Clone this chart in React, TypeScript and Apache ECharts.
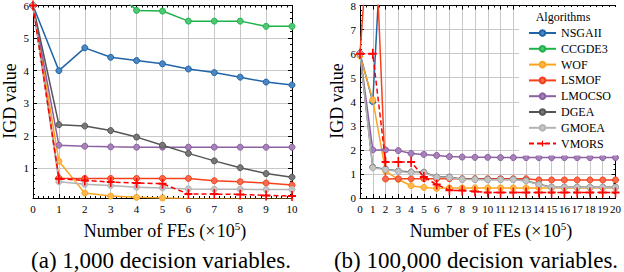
import React, { useEffect, useRef } from "react";
import * as echarts from "echarts";

const FONT = "Liberation Serif";

const names = ["NSGAII", "CCGDE3", "WOF", "LSMOF", "LMOCSO", "DGEA", "GMOEA", "VMORS"];
const colors = ["#2065a9", "#1fb24a", "#fba420", "#f5401c", "#8d5fa3", "#555555", "#b3b3b3", "#ff0000"];
const fills = ["#4a86c2", "#4fc873", "#fdb94d", "#f86a4c", "#a582b8", "#777777", "#c4c4c4", "#ff0000"];

// (a) 1,000 decision variables, FEs 0..10 (x1e5)
const feA = [0, 1, 2, 3, 4, 5, 6, 7, 8, 9, 10];
const nsgaiiA = [6.0, 4.0, 4.7, 4.41, 4.31, 4.21, 4.05, 3.94, 3.8, 3.65, 3.56];
const ccgde3A = [6.5, 7.4, 7.0, 6.6, 5.85, 5.83, 5.52, 5.52, 5.52, 5.36, 5.36];
const wofA = [6.0, 1.22, 0.24, 0.15, 0.11, 0.09, 0.07, 0.06, 0.06, 0.05, 0.05];
const lsmofA = [6.0, 0.7, 0.69, 0.69, 0.69, 0.69, 0.69, 0.62, 0.59, 0.55, 0.49];
const lmocsoA = [6.0, 1.71, 1.68, 1.66, 1.65, 1.65, 1.65, 1.65, 1.65, 1.65, 1.65];
const dgeaA = [6.0, 2.34, 2.3, 2.16, 1.96, 1.71, 1.46, 1.23, 1.02, 0.84, 0.73];
const gmoeaA = [6.0, 0.59, 0.51, 0.47, 0.42, 0.4, 0.37, 0.36, 0.36, 0.35, 0.35];
const vmorsA = [6.0, 0.68, 0.63, 0.58, 0.55, 0.53, 0.21, 0.21, 0.2, 0.17, 0.15];

// (b) 100,000 decision variables, FEs 0..20 (x1e5)
const feB = [0, 1, 2, 3, 4, 5, 6, 7, 8, 9, 10, 11, 12, 13, 14, 15, 16, 17, 18, 19, 20];
const nsgaiiB = [6.0, 4.0, 13.8, 13.6, 13.5, 13.4, 13.3, 13.2, 13.1, 13.0, 12.9, 12.9, 12.8, 12.8, 12.7, 12.7, 12.6, 12.6, 12.5, 12.5, 12.4];
const ccgde3B = [9.6, 9.8, 9.7, 9.6, 9.6, 9.5, 9.5, 9.4, 9.4, 9.3, 9.3, 9.3, 9.2, 9.2, 9.2, 9.1, 9.1, 9.1, 9.0, 9.0, 9.0];
const wofB = [5.9, 4.08, 1.12, 0.77, 0.51, 0.44, 0.4, 0.42, 0.42, 0.42, 0.42, 0.42, 0.42, 0.42, 0.42, 0.42, 0.42, 0.42, 0.42, 0.42, 0.42];
const lsmofB = [6.0, 13.5, 0.79, 0.8, 0.8, 0.8, 0.8, 0.8, 0.8, 0.8, 0.8, 0.8, 0.8, 0.8, 0.75, 0.75, 0.75, 0.75, 0.75, 0.75, 0.75];
const lmocsoB = [6.0, 2.0, 2.0, 1.97, 1.85, 1.81, 1.77, 1.72, 1.7, 1.69, 1.69, 1.68, 1.68, 1.68, 1.68, 1.68, 1.68, 1.68, 1.68, 1.68, 1.68];
const dgeaB = [6.0, 1.28, 1.2, 1.12, 1.08, 1.07, 0.87, 0.87, 0.78, 0.78, 0.77, 0.77, 0.77, 0.72, 0.57, 0.45, 0.45, 0.45, 0.45, 0.45, 0.45];
const gmoeaB = [6.0, 1.25, 1.18, 1.1, 1.06, 1.05, 0.86, 0.85, 0.77, 0.77, 0.76, 0.76, 0.76, 0.71, 0.56, 0.44, 0.44, 0.44, 0.44, 0.44, 0.44];
const vmorsB = [6.0, 6.0, 1.5, 1.5, 1.5, 0.87, 0.56, 0.32, 0.31, 0.27, 0.23, 0.23, 0.23, 0.23, 0.23, 0.23, 0.23, 0.23, 0.23, 0.23, 0.23];

const seriesA = [nsgaiiA, ccgde3A, wofA, lsmofA, lmocsoA, dgeaA, gmoeaA, vmorsA];
const seriesB = [nsgaiiB, ccgde3B, wofB, lsmofB, lmocsoB, dgeaB, gmoeaB, vmorsB];

const PLUS = "path://M4,0H6V4H10V6H6V10H4V6H0V4H4Z";

function xAxisCfg(grid: number, max: number, pos: string, main: boolean, minor: number) {
  return {
    type: "value",
    gridIndex: grid,
    min: 0,
    max,
    interval: 1,
    position: pos,
    axisLine: { show: true, onZero: false, lineStyle: { color: "#000", width: 1 } },
    axisTick: { show: true, inside: true, length: 4, lineStyle: { color: "#000", width: 1 } },
    minorTick: { show: true, splitNumber: minor, length: 2, lineStyle: { color: "#000", width: 1 } },
    axisLabel: {
      show: main,
      color: "#000",
      fontFamily: FONT,
      fontSize: 11,
      margin: 5,
      interval: 0,
      hideOverlap: false,
    },
    splitLine: { show: main, lineStyle: { color: "#c8c8c8", width: 1 } },
  };
}

function yAxisCfg(grid: number, min: number, max: number, pos: string, main: boolean, setInterval: boolean) {
  const cfg: any = {
    type: "value",
    gridIndex: grid,
    min,
    max,
    position: pos,
    axisLine: { show: true, onZero: false, lineStyle: { color: "#000", width: 1 } },
    axisTick: { show: true, inside: true, length: 4, lineStyle: { color: "#000", width: 1 } },
    minorTick: { show: true, splitNumber: 5, length: 2, lineStyle: { color: "#000", width: 1 } },
    axisLabel: {
      show: main,
      color: "#000",
      fontFamily: FONT,
      fontSize: 11,
      margin: 4,
      showMinLabel: setInterval,
      formatter: (v: number) => (Math.abs(v - Math.round(v)) < 1e-6 ? String(Math.round(v)) : ""),
    },
    splitLine: { show: main, lineStyle: { color: "#c8c8c8", width: 1 } },
  };
  if (setInterval) cfg.interval = 1;
  else cfg.splitNumber = 6;
  return cfg;
}

function makeSeries(k: number, vals: number[], xs: number[], axisIdx: number) {
  const isV = names[k] === "VMORS";
  return {
    type: "line",
    name: names[k],
    xAxisIndex: axisIdx,
    yAxisIndex: axisIdx,
    data: xs.map((x, i) => [x, vals[i]]),
    symbol: isV ? PLUS : "circle",
    symbolSize: isV ? [8, 10] : 6,
    showSymbol: true,
    clip: true,
    z: 2 + k * 0.01,
    lineStyle: { color: colors[k], width: 1.5, type: isV ? [5, 3] : "solid" },
    itemStyle: isV
      ? { color: colors[k], borderWidth: 0 }
      : { color: fills[k], borderColor: colors[k], borderWidth: 1 },
    emphasis: { disabled: true },
  };
}

export default function App() {
  const ref = useRef<HTMLDivElement>(null);
  useEffect(() => {
    if (!ref.current) return;
    const chart = echarts.init(ref.current, null, { renderer: "svg" });
    const series: any[] = [];
    for (let k = 0; k < names.length; k++) {
      series.push(makeSeries(k, seriesA[k], feA, 0));
    }
    for (let k = 0; k < names.length; k++) {
      series.push(makeSeries(k, seriesB[k], feB, 2));
    }
    const xName = "{a|Number of FEs (\u00d7\u200a10}{s|5}{a|)}";
    const xRich = {
      a: { fontFamily: FONT, fontSize: 18, lineHeight: 21, color: "#000" },
      s: { fontFamily: FONT, fontSize: 11, lineHeight: 21, verticalAlign: "top", color: "#000" },
    };
    const option: any = {
      animation: false,
      backgroundColor: "#fff",
      textStyle: { fontFamily: FONT },
      grid: [
        { left: 33, top: 3, width: 259, height: 195 },
        { left: 360, top: 3, width: 258, height: 195 },
      ],
      xAxis: [
        xAxisCfg(0, 10, "bottom", true, 5),
        xAxisCfg(0, 10, "top", false, 5),
        xAxisCfg(1, 20, "bottom", true, 2),
        xAxisCfg(1, 20, "top", false, 2),
      ],
      yAxis: [
        yAxisCfg(0, 0.09, 6, "left", true, false),
        yAxisCfg(0, 0.09, 6, "right", false, false),
        yAxisCfg(1, 0, 8, "left", true, true),
        yAxisCfg(1, 0, 8, "right", false, true),
      ],
      legend: {
        data: names,
        orient: "vertical",
        left: 519,
        top: 7,
        padding: [19, 6, 5, 9],
        backgroundColor: "#fff",
        itemWidth: 27,
        itemHeight: 7,
        itemGap: 1.8,
        textStyle: { fontFamily: FONT, fontSize: 12, color: "#000", lineHeight: 14 },
        selectedMode: false,
      },
      graphic: [
        {
          type: "text",
          z: 100,
          x: 563,
          y: 17,
          style: { text: "Algorithms", font: `12px ${FONT}`, fill: "#000", align: "center", verticalAlign: "middle" },
        },
        {
          type: "text",
          z: 100,
          x: 10,
          y: 101,
          rotation: Math.PI / 2,
          style: { text: "IGD value", font: `18px ${FONT}`, fill: "#000", align: "center", verticalAlign: "middle" },
        },
        {
          type: "text",
          z: 100,
          x: 337,
          y: 101,
          rotation: Math.PI / 2,
          style: { text: "IGD value", font: `18px ${FONT}`, fill: "#000", align: "center", verticalAlign: "middle" },
        },
        {
          type: "text",
          z: 100,
          x: 165,
          y: 231,
          style: { text: xName, rich: xRich, align: "center", verticalAlign: "middle" },
        },
        {
          type: "text",
          z: 100,
          x: 491,
          y: 231,
          style: { text: xName, rich: xRich, align: "center", verticalAlign: "middle" },
        },
        {
          type: "text",
          z: 100,
          x: 161,
          y: 260.5,
          style: { text: "(a) 1,000 decision variables.", font: `23px ${FONT}`, fill: "#000", align: "center", verticalAlign: "middle" },
        },
        {
          type: "text",
          z: 100,
          x: 476,
          y: 260.5,
          style: { text: "(b) 100,000 decision variables.", font: `23px ${FONT}`, fill: "#000", align: "center", verticalAlign: "middle" },
        },
      ],
      series,
    };
    chart.setOption(option);
    return () => chart.dispose();
  }, []);
  return <div ref={ref} style={{ position: "absolute", left: 0, top: 0, width: 624, height: 272 }} />;
}
